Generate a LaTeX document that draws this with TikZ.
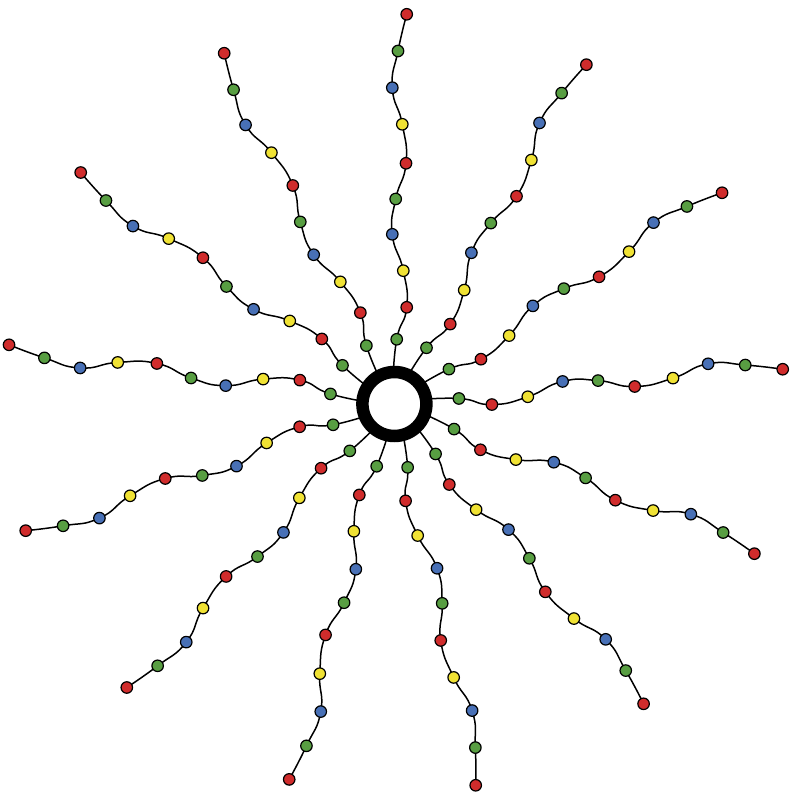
\documentclass[tikz,border=0pt]{standalone}
\definecolor{gR}{RGB}{208,44,44}
\definecolor{gG}{RGB}{88,158,66}
\definecolor{gB}{RGB}{72,112,182}
\definecolor{gY}{RGB}{240,226,52}
\tikzset{
  bead/.style={circle,draw=black,line width=1.2pt,minimum size=11.5pt,inner sep=0pt},
  chainline/.style={draw=black,line width=1.5pt},
  corering/.style={circle,draw=black,line width=12.5pt,minimum size=64pt,inner sep=0pt,fill=white}
}
\begin{document}
\begin{tikzpicture}[x=1pt,y=1pt]
\useasboundingbox (0,0) rectangle (793,793);
\coordinate (c) at (394.4,389);
\foreach \i in {0,...,12} {
  \begin{scope}[shift={(c)}, rotate={-27.6923*\i}]
    \coordinate (s\i) at (-1.5,20);
    \foreach \k/\x/\y in {0/2.3/64.7, 1/12.3/96.7, 2/8.9/133.3, 3/-2.1/169.7, 4/1.3/205,
                          5/11.6/240.7, 6/7.9/279.7, 7/-2.1/316.3, 8/3.6/353, 9/12.3/389.7}
      \coordinate (p\i-\k) at (\x,\y);
    \draw[chainline] plot[smooth,tension=0.9] coordinates {(s\i) (p\i-0) (p\i-1) (p\i-2) (p\i-3) (p\i-4) (p\i-5) (p\i-6) (p\i-7) (p\i-8) (p\i-9)};
    \foreach \k/\col in {0/gG,1/gR,2/gY,3/gB,4/gG,5/gR,6/gY,7/gB,8/gG,9/gR}
      \node[bead,fill=\col] (b\i-\k) at (p\i-\k) {};
  \end{scope}
}
\node[corering] (core) at (c) {};
\end{tikzpicture}
\end{document}
